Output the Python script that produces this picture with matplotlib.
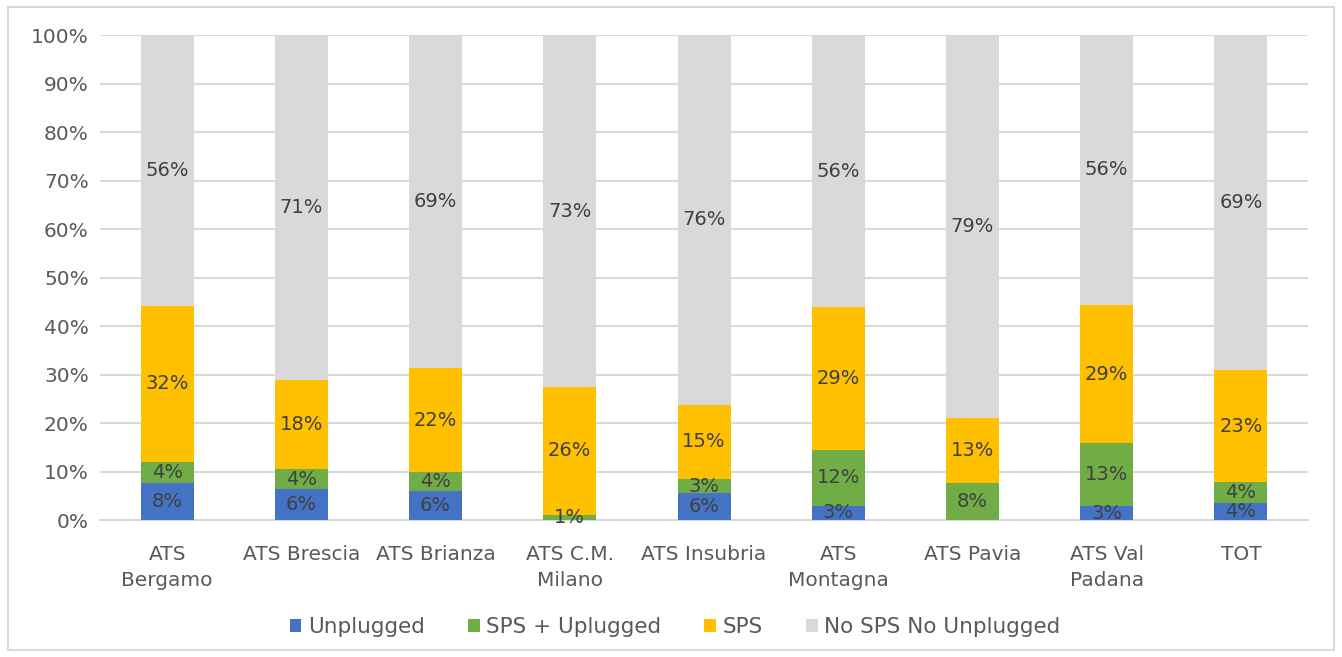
import matplotlib
matplotlib.use("Agg")
import matplotlib.pyplot as plt
from matplotlib.patches import Rectangle

categories = ["ATS\nBergamo", "ATS Brescia", "ATS Brianza", "ATS C.M.\nMilano", "ATS Insubria",
              "ATS\nMontagna", "ATS Pavia", "ATS Val\nPadana", "TOT"]
unplugged = [7.6, 6.3, 6.0, 0.0, 5.6, 2.9, 0.0, 2.8, 3.6]
sps_unplugged = [4.3, 4.2, 3.8, 1.1, 2.8, 11.6, 7.6, 13.0, 4.2]
sps = [32.3, 18.3, 21.6, 26.3, 15.4, 29.4, 13.4, 28.6, 23.1]
no_sps = [55.8, 71.2, 68.6, 72.6, 76.2, 56.1, 79.0, 55.6, 69.1]

series = [
    ("Unplugged", unplugged, "#4472c4"),
    ("SPS + Uplugged", sps_unplugged, "#70ad47"),
    ("SPS", sps, "#ffc000"),
    ("No SPS No Unplugged", no_sps, "#d9d9d9"),
]

plt.rcParams['font.family'] = ['DejaVu Sans']

fig = plt.figure(figsize=(13.42, 6.57), dpi=100)
fig.patches.append(Rectangle((0.006, 0.011), 0.988, 0.978, transform=fig.transFigure,
                             fill=False, edgecolor="#d9d9d9", linewidth=1.5))
ax = fig.add_axes([0.0745, 0.2085, 0.9002, 0.7382])

x = list(range(len(categories)))
bottom = [0.0] * len(categories)
for name, vals, color in series:
    ax.bar(x, vals, bottom=bottom, width=0.395, color=color, label=name, zorder=3)
    for i, v in enumerate(vals):
        if v > 0:
            ax.text(i, bottom[i] + v / 2, f"{round(v):d}%", ha="center", va="center",
                    fontsize=14, color="#404040", zorder=4)
    bottom = [b + v for b, v in zip(bottom, vals)]

ax.set_ylim(0, 100)
ax.set_xlim(-0.5, len(categories) - 0.5)
ax.set_yticks(range(0, 101, 10))
ax.set_yticklabels([f"{t}%" for t in range(0, 101, 10)], fontsize=14.5, color="#595959")
ax.set_xticks(x)
ax.set_xticklabels(categories, fontsize=14.5, color="#595959", linespacing=1.45)
ax.tick_params(axis="y", length=0, pad=8)
ax.tick_params(axis="x", length=0, pad=18)
ax.yaxis.grid(True, color="#d9d9d9", linewidth=1.5, zorder=0)
for s in ["top", "right", "left"]:
    ax.spines[s].set_visible(False)
ax.spines["bottom"].set_color("#d9d9d9")
ax.spines["bottom"].set_linewidth(1.5)

leg = fig.legend(loc="center", bbox_to_anchor=(0.503, 0.045), ncol=4, frameon=False,
                 fontsize=15.5, handlelength=0.55, handleheight=0.55, handletextpad=0.3,
                 columnspacing=2.0)
for t in leg.get_texts():
    t.set_color("#595959")

fig.savefig("out.png", dpi=100)
